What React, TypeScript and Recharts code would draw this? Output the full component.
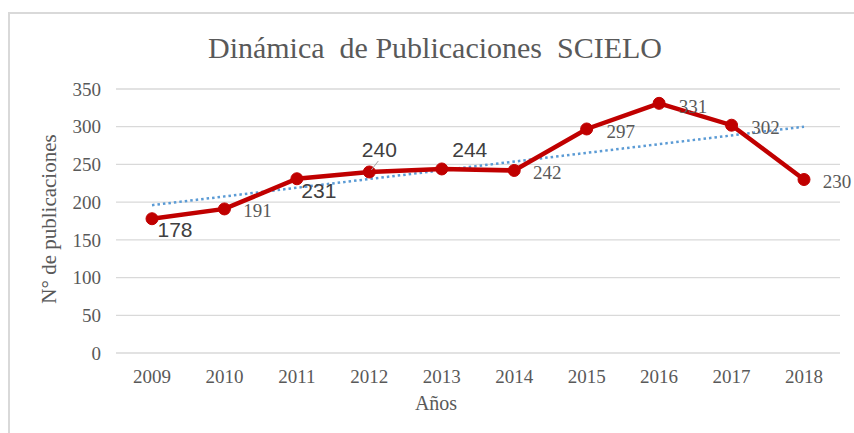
import React from 'react';
import { LineChart, Line, XAxis, YAxis, CartesianGrid } from 'recharts';

const years = ['2009', '2010', '2011', '2012', '2013', '2014', '2015', '2016', '2017', '2018'];
const publications = [178, 191, 231, 240, 244, 242, 297, 331, 302, 230];
const trendValues: (number | null)[] = [196, null, null, null, null, null, null, null, null, 300];
const yTicks = [0, 50, 100, 150, 200, 250, 300, 350];

const chartData = years.map((year, i) => ({
  year,
  pubs: publications[i],
  trend: trendValues[i],
}));

const SERIF = 'Liberation Serif';
const SANS = 'Liberation Sans';
const GRAY = '#595959';

// label placement (style, offsets relative to point)
const labelPlacement = [
  { sans: true, dx: 23, dy: 11 },
  { sans: false, dx: 33, dy: 2 },
  { sans: true, dx: 22, dy: 12 },
  { sans: true, dx: 10, dy: -22, leader: true },
  { sans: true, dx: 28, dy: -19 },
  { sans: false, dx: 33, dy: 2 },
  { sans: false, dx: 34, dy: 3 },
  { sans: false, dx: 34, dy: 3 },
  { sans: false, dx: 34, dy: 2 },
  { sans: false, dx: 33, dy: 2 },
];

const renderLabel = (props: any) => {
  const { x, y, index, value } = props;
  const p = labelPlacement[index];
  if (!p) return null;
  return (
    <g key={`lbl-${index}`}>
      {p.leader && (
        <line x1={x + 2} y1={y - 2} x2={x + 9} y2={y - 11} stroke="#a6a6a6" strokeWidth={1} />
      )}
      <text
        x={x + p.dx}
        y={y + p.dy}
        textAnchor="middle"
        dominantBaseline="central"
        style={{ fontFamily: p.sans ? SANS : SERIF, fontSize: p.sans ? 21 : 19 }}
        fill={p.sans ? '#404040' : GRAY}
      >
        {value}
      </text>
    </g>
  );
};

export default function App() {
  return (
    <div style={{ position: 'absolute', left: 0, top: 0, width: 854, height: 433, background: '#fff', overflow: 'hidden' }}>
      <div
        style={{
          position: 'absolute',
          left: 8,
          top: 12,
          width: 900,
          height: 500,
          borderTop: '2px solid #d9d9d9',
          borderLeft: '2px solid #d9d9d9',
        }}
      />
      <div
        style={{
          position: 'absolute',
          left: 0,
          width: 870,
          top: 29,
          textAlign: 'center',
          fontFamily: SERIF,
          fontSize: 30,
          color: GRAY,
          whiteSpace: 'pre',
          lineHeight: '38px',
        }}
      >
        {'Dinámica  de Publicaciones  SCIELO'}
      </div>
      <div style={{ position: 'absolute', left: 0, top: 0 }}>
        <LineChart
          width={854}
          height={433}
          data={chartData}
          margin={{ top: 89, right: 14, bottom: 50, left: 0 }}
        >
          <CartesianGrid vertical={false} stroke="#d9d9d9" strokeWidth={1.3} />
          <XAxis
            dataKey="year"
            axisLine={false}
            tickLine={false}
            padding={{ left: 36, right: 36 }}
            height={30}
            tickMargin={11}
            tick={{ style: { fontFamily: SERIF, fontSize: 19 }, fill: GRAY }}
            interval={0}
            label={{
              value: 'Años',
              position: 'insideBottom',
              offset: -27,
              dx: -42,
              style: { fontFamily: SERIF, fontSize: 20, fill: GRAY },
            }}
          />
          <YAxis
            domain={[0, 350]}
            ticks={yTicks}
            axisLine={false}
            tickLine={false}
            width={116}
            tickMargin={9}
            tick={{ style: { fontFamily: SERIF, fontSize: 19 }, fill: GRAY }}
            label={{
              value: 'N° de publicaciones',
              angle: -90,
              position: 'insideLeft',
              dx: 44,
              dy: -2,
              style: { fontFamily: SERIF, fontSize: 21, fill: GRAY, textAnchor: 'middle' },
            }}
          />
          <Line
            dataKey="trend"
            stroke="#5B9BD5"
            strokeWidth={2.5}
            strokeDasharray="2.5 3"
            dot={false}
            connectNulls
            isAnimationActive={false}
          />
          <Line
            dataKey="pubs"
            stroke="#C00000"
            strokeWidth={4.5}
            dot={{ r: 6, fill: '#C00000', stroke: '#C00000', strokeWidth: 1 }}
            label={renderLabel}
            isAnimationActive={false}
          />
        </LineChart>
      </div>
    </div>
  );
}
